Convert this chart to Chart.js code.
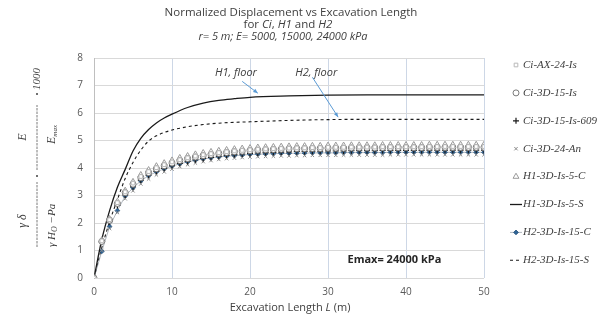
<!DOCTYPE html>
<html>
<head>
<meta charset="utf-8">
<script src="https://cdn.jsdelivr.net/npm/chart.js@4.4.1/dist/chart.umd.min.js"></script>
<style>
  html, body { margin: 0; padding: 0; background: #fff; }
  #wrap { width: 597px; height: 320px; }
</style>
</head>
<body>
<div id="wrap"><canvas id="grafico"></canvas></div>
<script>
// Excavation length L (m) for the point series
const lengths = [
  0, 1, 2, 3, 4, 5, 6, 7, 8, 9,
  10, 11, 12, 13, 14, 15, 16, 17, 18, 19,
  20, 21, 22, 23, 24, 25, 26, 27, 28, 29,
  30, 31, 32, 33, 34, 35, 36, 37, 38, 39,
  40, 41, 42, 43, 44, 45, 46, 47, 48, 49,
  50
];

const ciAx24Is = [
  0, 1.35, 2.12, 2.74, 3.13, 3.45, 3.69, 3.87, 4.01, 4.12,
  4.22, 4.30, 4.37, 4.43, 4.48, 4.52, 4.56, 4.59, 4.62, 4.64,
  4.66, 4.68, 4.69, 4.70, 4.71, 4.72, 4.73, 4.73, 4.74, 4.74,
  4.75, 4.75, 4.75, 4.76, 4.76, 4.76, 4.76, 4.77, 4.77, 4.77,
  4.77, 4.77, 4.77, 4.78, 4.78, 4.78, 4.78, 4.78, 4.78, 4.78,
  4.78
];
const ci3d15Is = [
  0, 1.33, 2.10, 2.71, 3.10, 3.41, 3.65, 3.83, 3.97, 4.08,
  4.18, 4.27, 4.34, 4.40, 4.45, 4.49, 4.53, 4.56, 4.59, 4.61,
  4.63, 4.65, 4.66, 4.67, 4.68, 4.69, 4.70, 4.70, 4.71, 4.71,
  4.72, 4.72, 4.72, 4.73, 4.73, 4.73, 4.73, 4.74, 4.74, 4.74,
  4.74, 4.74, 4.74, 4.75, 4.75, 4.75, 4.75, 4.75, 4.75, 4.75,
  4.75
];
const ci3d15Is609 = [
  0, 1.30, 2.05, 2.64, 3.02, 3.32, 3.56, 3.74, 3.88, 3.99,
  4.09, 4.17, 4.24, 4.30, 4.35, 4.39, 4.43, 4.46, 4.49, 4.51,
  4.53, 4.55, 4.56, 4.57, 4.58, 4.59, 4.60, 4.60, 4.61, 4.61,
  4.62, 4.62, 4.62, 4.63, 4.63, 4.63, 4.63, 4.64, 4.64, 4.64,
  4.64, 4.64, 4.64, 4.65, 4.65, 4.65, 4.65, 4.65, 4.65, 4.65,
  4.65
];
const ci3d24An = [
  0, 1.00, 1.80, 2.38, 2.88, 3.17, 3.42, 3.60, 3.75, 3.86,
  3.96, 4.05, 4.12, 4.18, 4.23, 4.27, 4.31, 4.34, 4.36, 4.38,
  4.40, 4.41, 4.42, 4.43, 4.44, 4.44, 4.45, 4.45, 4.46, 4.46,
  4.46, 4.46, 4.47, 4.47, 4.47, 4.47, 4.47, 4.47, 4.48, 4.48,
  4.48, 4.48, 4.48, 4.48, 4.48, 4.48, 4.48, 4.48, 4.48, 4.48,
  4.48
];
const h1Is5C = [
  0, 1.38, 2.15, 2.78, 3.18, 3.50, 3.75, 3.93, 4.07, 4.18,
  4.28, 4.37, 4.44, 4.50, 4.55, 4.59, 4.63, 4.66, 4.69, 4.71,
  4.73, 4.75, 4.76, 4.77, 4.78, 4.79, 4.80, 4.80, 4.81, 4.81,
  4.82, 4.82, 4.82, 4.83, 4.83, 4.83, 4.83, 4.84, 4.84, 4.84,
  4.84, 4.84, 4.84, 4.85, 4.85, 4.85, 4.85, 4.85, 4.85, 4.85,
  4.85
];
const h2Is15C = [
  0, 0.97, 1.87, 2.45, 2.98, 3.28, 3.53, 3.72, 3.86, 3.97,
  4.07, 4.15, 4.22, 4.28, 4.33, 4.37, 4.40, 4.43, 4.45, 4.47,
  4.49, 4.50, 4.51, 4.52, 4.53, 4.53, 4.54, 4.54, 4.55, 4.55,
  4.55, 4.55, 4.56, 4.56, 4.56, 4.56, 4.56, 4.56, 4.57, 4.57,
  4.57, 4.57, 4.57, 4.57, 4.57, 4.57, 4.57, 4.57, 4.57, 4.57,
  4.57
];

// Smooth solution curves (H1 and H2, floor)
const curveLengths = [0, 1, 2, 3, 4, 5, 6, 7, 8, 9, 10, 12, 14, 16, 18, 20, 25, 30, 35, 40, 45, 50];
const h1Is5S  = [0, 1.40, 2.45, 3.30, 3.95, 4.62, 5.08, 5.40, 5.64, 5.82, 5.96, 6.20, 6.36, 6.46, 6.52, 6.57, 6.62, 6.65, 6.66, 6.66, 6.66, 6.66];
const h2Is15S = [0, 1.10, 2.05, 2.85, 3.62, 4.20, 4.65, 4.98, 5.17, 5.29, 5.38, 5.50, 5.58, 5.63, 5.66, 5.68, 5.73, 5.76, 5.77, 5.77, 5.77, 5.77];

const xTicks = [0, 10, 20, 30, 40, 50];
const yTicks = [0, 1, 2, 3, 4, 5, 6, 7, 8];

function pts(xs, ys) {
  return xs.map((x, i) => ({ x: x, y: ys[i] }));
}

const series = [
  { label: 'Ci-AX-24-Is', data: pts(lengths, ciAx24Is), pointStyle: 'rect', pointRadius: 2.6,
    borderColor: '#b8b8b8', backgroundColor: '#ffffff', pointBorderWidth: 1, showLine: false },
  { label: 'Ci-3D-15-Is', data: pts(lengths, ci3d15Is), pointStyle: 'circle', pointRadius: 3,
    borderColor: '#7a7a7a', backgroundColor: '#ffffff', pointBorderWidth: 1, showLine: false },
  { label: 'Ci-3D-15-Is-609', data: pts(lengths, ci3d15Is609), pointStyle: 'cross', pointRadius: 3,
    borderColor: '#1a1a1a', backgroundColor: '#1a1a1a', pointBorderWidth: 1.2, showLine: false },
  { label: 'Ci-3D-24-An', data: pts(lengths, ci3d24An), pointStyle: 'crossRot', pointRadius: 2.4,
    borderColor: '#8a8a8a', backgroundColor: '#8a8a8a', pointBorderWidth: 1, showLine: false },
  { label: 'H1-3D-Is-5-C', data: pts(lengths, h1Is5C), pointStyle: 'triangle', pointRadius: 3.4,
    borderColor: '#9a9a9a', backgroundColor: '#ffffff', pointBorderWidth: 1, showLine: false },
  { label: 'H1-3D-Is-5-S', data: pts(curveLengths, h1Is5S), pointRadius: 0, showLine: true,
    borderColor: '#1a1a1a', borderWidth: 1.3, cubicInterpolationMode: 'monotone' },
  { label: 'H2-3D-Is-15-C', data: pts(lengths, h2Is15C), pointStyle: 'rectRot', pointRadius: 2.4,
    borderColor: '#9aa3ad', borderWidth: 0.8, pointBorderColor: '#24507a', pointBackgroundColor: '#2f6496',
    pointBorderWidth: 0.8, showLine: true },
  { label: 'H2-3D-Is-15-S', data: pts(curveLengths, h2Is15S), pointRadius: 0, showLine: true,
    borderColor: '#1a1a1a', borderWidth: 1.1, borderDash: [3, 3], cubicInterpolationMode: 'monotone' }
];

// annotation anchors in data units
const h1Note = { label: 'H1, floor', textAt: [15.5, 7.45], from: [19.0, 7.15], to: [21.0, 6.72] };
const h2Note = { label: 'H2, floor', textAt: [25.8, 7.45], from: [28.0, 7.3], to: [31.3, 5.85] };
const emaxNote = { label: 'Emax= 24000 kPa', at: [32.5, 0.65] };

const textColor = '#404040';

function arrow(ctx, x1, y1, x2, y2) {
  ctx.save();
  ctx.strokeStyle = '#5b9bd5';
  ctx.fillStyle = '#5b9bd5';
  ctx.lineWidth = 1;
  ctx.beginPath();
  ctx.moveTo(x1, y1);
  ctx.lineTo(x2, y2);
  ctx.stroke();
  const a = Math.atan2(y2 - y1, x2 - x1);
  ctx.beginPath();
  ctx.moveTo(x2, y2);
  ctx.lineTo(x2 - 5 * Math.cos(a - 0.4), y2 - 5 * Math.sin(a - 0.4));
  ctx.lineTo(x2 - 5 * Math.cos(a + 0.4), y2 - 5 * Math.sin(a + 0.4));
  ctx.closePath();
  ctx.fill();
  ctx.restore();
}

// draw runs of [text, font] centred on x
function runs(ctx, parts, cx, y) {
  let w = 0;
  parts.forEach(p => { ctx.font = p[1]; w += ctx.measureText(p[0]).width; });
  let x = cx - w / 2;
  parts.forEach(p => { ctx.font = p[1]; ctx.fillText(p[0], x, y); x += ctx.measureText(p[0]).width; });
}

const decor = {
  id: 'decor',
  afterDraw(chart) {
    const ctx = chart.ctx;
    const xs = chart.scales.x, ys = chart.scales.y;
    const px = v => xs.getPixelForValue(v), py = v => ys.getPixelForValue(v);
    ctx.save();
    ctx.fillStyle = textColor;
    ctx.textBaseline = 'middle';
    ctx.textAlign = 'left';

    // title
    const sans = '11.5px "Open Sans"';
    const sansI = 'italic 11.5px "Open Sans"';
    runs(ctx, [['Normalized Displacement vs Excavation Length', sans]], 291, 13);
    runs(ctx, [['for ', sans], ['Ci', sansI], [', ', sans], ['H1', sansI], [' and ', sans], ['H2', sansI]], 288, 25);
    runs(ctx, [['r= 5 m; E= 5000, 15000, 24000 kPa', 'italic 11px "Open Sans"']], 283, 37);

    // x axis title
    const ax = '11px "Open Sans"';
    runs(ctx, [['Excavation Length ', ax], ['L', 'italic 11px "Open Sans"'], [' (m)', ax]], 290, 308);

    // annotations
    ctx.font = 'italic 11px "Open Sans"';
    ctx.fillText(h1Note.label, px(h1Note.textAt[0]), py(h1Note.textAt[1]));
    ctx.fillText(h2Note.label, px(h2Note.textAt[0]), py(h2Note.textAt[1]));
    arrow(ctx, px(h1Note.from[0]), py(h1Note.from[1]), px(h1Note.to[0]), py(h1Note.to[1]));
    arrow(ctx, px(h2Note.from[0]), py(h2Note.from[1]), px(h2Note.to[0]), py(h2Note.to[1]));
    ctx.fillStyle = '#262626';
    ctx.font = 'bold 11px "Open Sans"';
    ctx.fillText(emaxNote.label, px(emaxNote.at[0]), py(emaxNote.at[1]));

    // rotated y axis formula
    ctx.fillStyle = textColor;
    ctx.strokeStyle = '#595959';
    ctx.save();
    ctx.rotate(-Math.PI / 2);
    // rotated frame: (u, v) = (-y, x)
    const ser = 'italic 12px "Liberation Serif"';
    const serS = 'italic 11px "Liberation Serif"';
    ctx.textAlign = 'center';
    ctx.font = ser;
    ctx.fillText('\u03b3 \u03b4', -221, 23);
    ctx.textAlign = 'left';
    // denominator γ H_O − Pa
    let u = -247;
    ctx.font = serS; ctx.fillText('\u03b3 H', u, 52); u += ctx.measureText('\u03b3 H').width;
    ctx.font = 'italic 8px "Liberation Serif"'; ctx.fillText('O', u, 55); u += ctx.measureText('O').width;
    ctx.font = serS; ctx.fillText(' \u2212Pa', u, 52);
    ctx.lineWidth = 0.8;
    ctx.setLineDash([2.5, 1]);
    ctx.beginPath(); ctx.moveTo(-247, 37); ctx.lineTo(-182, 37); ctx.stroke();
    ctx.beginPath(); ctx.moveTo(-170, 37); ctx.lineTo(-105, 37); ctx.stroke();
    ctx.setLineDash([]);
    ctx.beginPath(); ctx.arc(-176, 37, 1, 0, Math.PI * 2); ctx.fill();
    ctx.textAlign = 'center';
    ctx.font = ser; ctx.fillText('E', -137, 23);
    ctx.textAlign = 'left';
    u = -144;
    ctx.font = ser; ctx.fillText('E', u, 52); u += ctx.measureText('E').width;
    ctx.font = 'italic 7px "Liberation Serif"'; ctx.fillText('max', u, 55);
    ctx.font = serS;
    ctx.beginPath(); ctx.arc(-94, 37, 1, 0, Math.PI * 2); ctx.fill();
    ctx.fillText('1000', -90, 37);
    ctx.restore();

    // legend
    const lx = 516, tx = 523;
    ctx.textAlign = 'left';
    series.forEach((s, i) => {
      const y = 65 + i * 27.9;
      ctx.save();
      if (s.pointRadius === 0) {
        ctx.strokeStyle = s.borderColor;
        ctx.lineWidth = s.borderWidth;
        ctx.setLineDash(s.borderDash || []);
        ctx.beginPath(); ctx.moveTo(510, y); ctx.lineTo(522, y); ctx.stroke();
      } else {
        if (s.showLine) {
          ctx.strokeStyle = s.borderColor; ctx.lineWidth = s.borderWidth;
          ctx.beginPath(); ctx.moveTo(510, y); ctx.lineTo(522, y); ctx.stroke();
        }
        ctx.strokeStyle = s.pointBorderColor || s.borderColor;
        ctx.fillStyle = s.pointBackgroundColor || s.backgroundColor;
        ctx.lineWidth = s.pointBorderWidth;
        Chart.helpers.drawPoint(ctx, { pointStyle: s.pointStyle, radius: s.pointRadius, rotation: 0, borderWidth: s.pointBorderWidth }, lx, y);
      }
      ctx.restore();
      ctx.fillStyle = textColor;
      ctx.font = 'italic 11px "Liberation Serif"';
      ctx.fillText(s.label, tx, y);
    });
    ctx.restore();
  }
};

new Chart(document.getElementById('grafico'), {
  type: 'scatter',
  data: { datasets: series },
  options: {
    responsive: true,
    maintainAspectRatio: false,
    animation: false,
    layout: { padding: { top: 58, right: 113, left: 0, bottom: 0 } },
    plugins: { legend: { display: false }, tooltip: { enabled: false } },
    scales: {
      x: {
        type: 'linear', min: 0, max: 50,
        afterFit(s) { s.height = 42; },
        afterBuildTicks(s) { s.ticks = xTicks.map(v => ({ value: v })); },
        grid: { color: '#cdd7e6', drawTicks: false },
        border: { display: false },
        ticks: { padding: 8, color: '#595959', font: { family: 'Open Sans', size: 10 } }
      },
      y: {
        min: 0, max: 8,
        afterFit(s) { s.width = 94; },
        afterBuildTicks(s) { s.ticks = yTicks.map(v => ({ value: v })); },
        grid: { color: '#d9d9d9', drawTicks: false },
        border: { color: '#bfbfbf' },
        ticks: { padding: 11, color: '#595959', font: { family: 'Open Sans', size: 10 } }
      }
    }
  },
  plugins: [decor]
});
</script>
</body>
</html>
